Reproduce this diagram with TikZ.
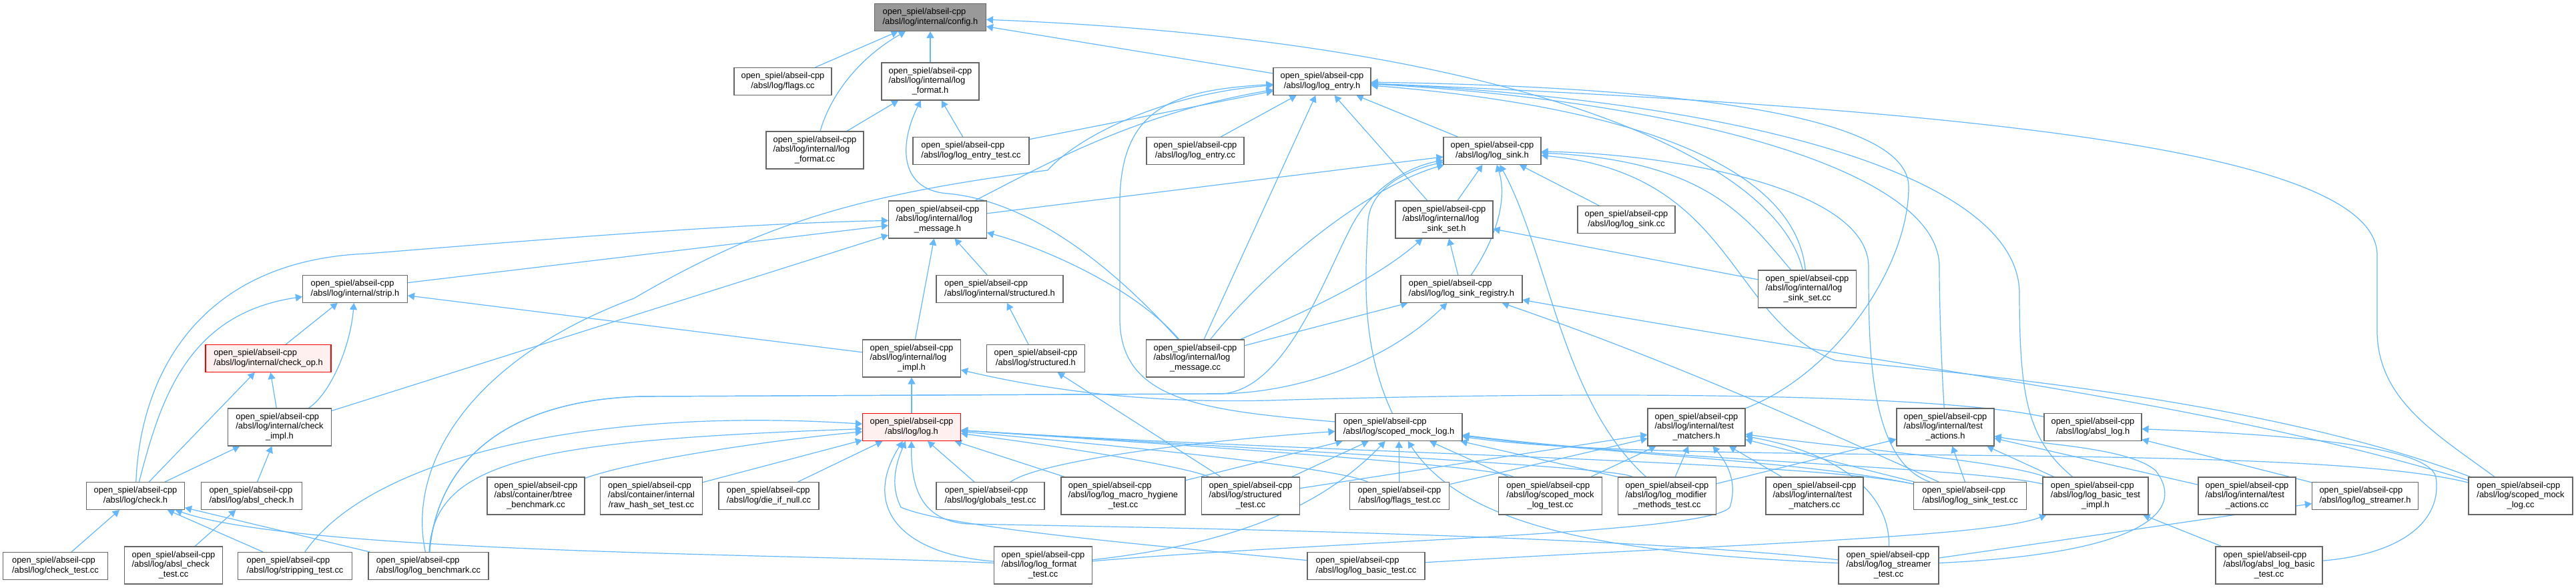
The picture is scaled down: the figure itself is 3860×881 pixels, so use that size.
\documentclass[tikz,border=0pt]{standalone}
\usepackage{fontspec}
\setmainfont{Liberation Sans}
\usepackage{xcolor}
\definecolor{cEdge}{HTML}{63B8FF}
\definecolor{cBorder}{HTML}{666666}
\definecolor{cRoot}{HTML}{999999}
\definecolor{cRed}{HTML}{FF0000}
\definecolor{cRedFill}{HTML}{FFF0F0}
\usepackage{tikz}
\usetikzlibrary{arrows.meta,backgrounds}
\tikzset{
  node-file/.style={draw=cBorder,fill=white,line width=0.55pt,inner sep=0pt,
    minimum height=20.5pt,font=\fontsize{6.45}{7.15}\selectfont},
  node-tall/.style={minimum height=28pt},
  node-root/.style={fill=cRoot},
  node-warn/.style={draw=cRed,fill=cRedFill},
  wd/.style={minimum width=#1*0.5pt},
  arrow-inc/.style={-{Triangle[length=5pt,width=5.5pt]},draw=cEdge,line width=0.6pt},
}
% label of a file box: last line centred, the others flush left
\newcommand{\fpath}[1]{\begin{tabular}{@{}l@{}}open\_spiel/abseil-cpp\\\multicolumn{1}{@{}c@{}}{#1}\end{tabular}}
\newcommand{\fpathl}[2]{\begin{tabular}{@{}l@{}}open\_spiel/abseil-cpp\\#1\\\multicolumn{1}{@{}c@{}}{#2}\end{tabular}}

\begin{document}
\begin{tikzpicture}[x=0.5pt,y=-0.5pt]
  \useasboundingbox (0,0) rectangle (3860,881);
  % row 0-2
  \node[node-file,node-root,wd=167] (cfg) at (1394,26) {\fpath{/absl/log/internal/config.h}};
  \node[node-file,wd=146] (flagscc) at (1173,122) {\fpath{/absl/log/flags.cc}};
  \node[node-file,node-tall,wd=146] (fmth) at (1394,122) {\fpathl{/absl/log/internal/log}{\_format.h}};
  \node[node-file,wd=146] (entryh) at (1981,122) {\fpath{/absl/log/log\_entry.h}};
  \node[node-file,node-tall,wd=146] (fmtcc) at (1221,225) {\fpathl{/absl/log/internal/log}{\_format.cc}};
  \node[node-file,wd=174] (entrytest) at (1455,226) {\fpath{/absl/log/log\_entry\_test.cc}};
  \node[node-file,wd=146] (entrycc) at (1791,226) {\fpath{/absl/log/log\_entry.cc}};
  \node[node-file,wd=146] (sinkh) at (2236,226) {\fpath{/absl/log/log\_sink.h}};
  % row 3-4
  \node[node-file,node-tall,wd=147] (msgh) at (1405,329) {\fpathl{/absl/log/internal/log}{\_message.h}};
  \node[node-file,node-tall,wd=146] (sinkseth) at (2164,329) {\fpathl{/absl/log/internal/log}{\_sink\_set.h}};
  \node[node-file,wd=146] (sinkcc) at (2437,329) {\fpath{/absl/log/log\_sink.cc}};
  \node[node-file,node-tall,wd=147] (sinksetcc) at (2708,433) {\fpathl{/absl/log/internal/log}{\_sink\_set.cc}};
  \node[node-file,wd=157] (striph) at (532,433) {\fpath{/absl/log/internal/strip.h}};
  \node[node-file,wd=190] (istructh) at (1498,433) {\fpath{/absl/log/internal/structured.h}};
  \node[node-file,wd=182] (registryh) at (2190,433) {\fpath{/absl/log/log\_sink\_registry.h}};
  % row 5
  \node[node-file,node-warn,wd=188] (checkoph) at (402,537) {\fpath{/absl/log/internal/check\_op.h}};
  \node[node-file,node-tall,wd=147] (implh) at (1366,537) {\fpathl{/absl/log/internal/log}{\_impl.h}};
  \node[node-file,wd=147] (structh) at (1552,537) {\fpath{/absl/log/structured.h}};
  \node[node-file,node-tall,wd=147] (msgcc) at (1791,537) {\fpathl{/absl/log/internal/log}{\_message.cc}};
  % row 6
  \node[node-file,node-tall,wd=155] (checkimplh) at (419,640) {\fpathl{/absl/log/internal/check}{\_impl.h}};
  \node[node-file,node-warn,wd=147] (logh) at (1366,640) {\fpath{/absl/log/log.h}};
  \node[node-file,wd=190] (mockh) at (2096,640) {\fpath{/absl/log/scoped\_mock\_log.h}};
  \node[node-file,node-tall,wd=146] (matchh) at (2542,640) {\fpathl{/absl/log/internal/test}{\_matchers.h}};
  \node[node-file,node-tall,wd=146] (actionsh) at (2915,640) {\fpathl{/absl/log/internal/test}{\_actions.h}};
  \node[node-file,wd=146] (absllogh) at (3136,640) {\fpath{/absl/log/absl\_log.h}};
  % row 7
  \node[node-file,wd=147] (checkh) at (203,743) {\fpath{/absl/log/check.h}};
  \node[node-file,wd=151] (abslcheckh) at (377,743) {\fpath{/absl/log/absl\_check.h}};
  \node[node-file,node-tall,wd=146] (btree) at (803,743) {\fpathl{/absl/container/btree}{\_benchmark.cc}};
  \node[node-file,node-tall,wd=153] (rawhash) at (976,743) {\fpathl{/absl/container/internal}{/raw\_hash\_set\_test.cc}};
  \node[node-file,wd=150] (dieifnull) at (1152,743) {\fpath{/absl/log/die\_if\_null.cc}};
  \node[node-file,wd=162] (globalstest) at (1484,743) {\fpath{/absl/log/globals\_test.cc}};
  \node[node-file,node-tall,wd=186] (hygiene) at (1683,743) {\fpathl{/absl/log/log\_macro\_hygiene}{\_test.cc}};
  \node[node-file,node-tall,wd=147] (structtest) at (1874,743) {\fpathl{/absl/log/structured}{\_test.cc}};
  \node[node-file,wd=149] (flagstest) at (2097,743) {\fpath{/absl/log/flags\_test.cc}};
  \node[node-file,node-tall,wd=155] (mocktest) at (2323,743) {\fpathl{/absl/log/scoped\_mock}{\_log\_test.cc}};
  \node[node-file,node-tall,wd=147] (modtest) at (2498,743) {\fpathl{/absl/log/log\_modifier}{\_methods\_test.cc}};
  \node[node-file,node-tall,wd=146] (matchcc) at (2719,743) {\fpathl{/absl/log/internal/test}{\_matchers.cc}};
  \node[node-file,wd=169] (sinktest) at (2952,743) {\fpath{/absl/log/log\_sink\_test.cc}};
  \node[node-file,node-tall,wd=158] (basicimplh) at (3140,743) {\fpathl{/absl/log/log\_basic\_test}{\_impl.h}};
  \node[node-file,node-tall,wd=146] (actionscc) at (3367,743) {\fpathl{/absl/log/internal/test}{\_actions.cc}};
  \node[node-file,wd=159] (streamerh) at (3544,743) {\fpath{/absl/log/log\_streamer.h}};
  \node[node-file,node-tall,wd=156] (mockcc) at (3777,743) {\fpathl{/absl/log/scoped\_mock}{\_log.cc}};
  % row 8
  \node[node-file,wd=157] (checktest) at (83,848) {\fpath{/absl/log/check\_test.cc}};
  \node[node-file,node-tall,wd=147] (abslchecktest) at (260,847) {\fpathl{/absl/log/absl\_check}{\_test.cc}};
  \node[node-file,wd=171] (striptest) at (442,848) {\fpath{/absl/log/stripping\_test.cc}};
  \node[node-file,wd=180] (bench) at (642,848) {\fpath{/absl/log/log\_benchmark.cc}};
  \node[node-file,node-tall,wd=147] (fmttest) at (1563,847) {\fpathl{/absl/log/log\_format}{\_test.cc}};
  \node[node-file,wd=176] (basictest) at (2047,848) {\fpath{/absl/log/log\_basic\_test.cc}};
  \node[node-file,node-tall,wd=150] (streamertest) at (2830,847) {\fpathl{/absl/log/log\_streamer}{\_test.cc}};
  \node[node-file,node-tall,wd=160] (abslbasictest) at (3400,847) {\fpathl{/absl/log/absl\_log\_basic}{\_test.cc}};

  \begin{scope}[on background layer]
    \fill[white] (0,0) rectangle (3860,881);
    % straight include edges, by included file
    \foreach \s in {flagscc,fmth,entryh} \draw[arrow-inc] (\s) -- (cfg);
    \foreach \s in {fmtcc,entrytest} \draw[arrow-inc] (\s) -- (fmth);
    \foreach \s in {entrytest,entrycc,sinkh,sinkseth,msgcc} \draw[arrow-inc] (\s) -- (entryh);
    \foreach \s in {msgh,sinkseth,sinkcc} \draw[arrow-inc] (\s) -- (sinkh);
    \foreach \s in {striph,istructh,implh,checkimplh} \draw[arrow-inc] (\s) -- (msgh);
    \foreach \s in {sinksetcc,registryh} \draw[arrow-inc] (\s) -- (sinkseth);
    \draw[arrow-inc] (msgcc) -- (registryh);
    \foreach \s in {checkoph,implh} \draw[arrow-inc] (\s) -- (striph);
    \foreach \s in {checkimplh,checkh} \draw[arrow-inc] (\s) -- (checkoph);
    \foreach \s in {checkh,abslcheckh} \draw[arrow-inc] (\s) -- (checkimplh);
    \draw[arrow-inc] (structh) -- (istructh);
    \draw[arrow-inc] (structtest) -- (structh);
    \draw[arrow-inc] (logh) -- (implh);
    \foreach \s in {dieifnull,rawhash,globalstest,hygiene} \draw[arrow-inc] (\s) -- (logh);
    \foreach \s in {checktest,striptest,bench} \draw[arrow-inc] (\s) -- (checkh);
    \draw[arrow-inc] (abslchecktest) -- (abslcheckh);
    \foreach \s in {flagstest,mocktest,structtest,hygiene,modtest.north west} \draw[arrow-inc] (\s) -- (mockh);
    \foreach \s in {flagstest,mocktest,modtest,matchcc,structtest,sinktest} \draw[arrow-inc] (\s) -- (matchh);
    \foreach \s in {modtest,sinktest,basicimplh,actionscc} \draw[arrow-inc] (\s) -- (actionsh);
    \draw[arrow-inc] (streamerh) -- (absllogh);
    \draw[arrow-inc] (abslbasictest) -- (basicimplh);
    \draw[arrow-inc] (streamertest) -- (streamerh);

    % routed include edges
    \draw[arrow-inc] (fmtcc) .. controls (1245,140) and (1290,85) .. (cfg);
    \draw[arrow-inc] (sinksetcc) .. controls (2660,230) and (2250,60) .. (cfg);
    \draw[arrow-inc] (msgcc) .. controls (1650,380) and (1530,300) .. (1420,290)
      .. controls (1350,285) and (1345,220) .. (fmth);

    \draw[arrow-inc] (msgh) .. controls (1560,250) and (1700,170) .. (entryh);
    \draw[arrow-inc] (bench) .. controls (610,700) and (700,540) .. (950,447)
      .. controls (1150,330) and (1300,290) .. (1570,255) .. controls (1620,200) and (1750,140) .. (entryh);
    \draw[arrow-inc] (mockh) .. controls (1800,615) and (1680,600) .. (1678,480) -- (1678,300)
      .. controls (1680,160) and (1760,135) .. (entryh);
    \draw[arrow-inc] (sinksetcc) .. controls (2690,250) and (2450,160) .. (entryh);
    \draw[arrow-inc] (matchh) .. controls (2750,560) and (2860,400) .. (2860,280)
      .. controls (2860,170) and (2500,130) .. (entryh);
    \draw[arrow-inc] (actionsh) .. controls (2910,560) and (2906,470) .. (2906,400)
      .. controls (2906,250) and (2500,150) .. (entryh);
    \draw[arrow-inc] (basicimplh) .. controls (3040,660) and (3026,600) .. (3026,440)
      .. controls (3026,260) and (2600,150) .. (entryh);
    \draw[arrow-inc] (mockcc) .. controls (3650,650) and (3565,600) .. (3562,500) -- (3562,380)
      .. controls (3555,230) and (3000,165) .. (entryh);

    \draw[arrow-inc] (registryh) .. controls (2240,360) and (2260,300) .. (sinkh);
    \draw[arrow-inc] (sinksetcc) .. controls (2620,330) and (2560,240) .. (sinkh);
    \draw[arrow-inc] (msgcc) .. controls (1900,400) and (2050,280) .. (sinkh);
    \draw[arrow-inc] (mockh) .. controls (2040,520) and (2045,420) .. (2050,330)
      .. controls (2055,280) and (2110,255) .. (sinkh);
    \draw[arrow-inc] (bench) .. controls (655,690) and (760,600) .. (960,594) -- (1830,590)
      .. controls (1930,585) and (1990,400) .. (2030,330) .. controls (2060,280) and (2110,250) .. (sinkh);
    \draw[arrow-inc] (modtest) .. controls (2340,600) and (2320,380) .. (sinkh);
    \draw[arrow-inc] (sinktest) .. controls (2800,690) and (2800,520) .. (2800,400)
      .. controls (2800,280) and (2500,230) .. (sinkh);
    \draw[arrow-inc] (mockcc) .. controls (3400,600) and (2950,560) .. (2750,540)
      .. controls (2590,480) and (2600,260) .. (sinkh);

    \draw[arrow-inc] (msgcc) .. controls (1950,470) and (2060,420) .. (sinkseth);
    \draw[arrow-inc] (bench) .. controls (655,690) and (760,600) .. (960,594) -- (1830,590)
      .. controls (1950,588) and (2080,540) .. (registryh);
    \draw[arrow-inc] (sinktest) .. controls (2700,630) and (2500,540) .. (registryh);
    \draw[arrow-inc] (mockcc) .. controls (3300,600) and (2900,560) .. (registryh);

    \draw[arrow-inc] (msgcc) .. controls (1700,430) and (1560,370) .. (msgh);
    \draw[arrow-inc] (checkh) .. controls (210,560) and (300,390) .. (550,380)
      .. controls (800,360) and (1100,335) .. (msgh);
    \draw[arrow-inc] (checkimplh) .. controls (495,590) and (525,520) .. (striph);
    \draw[arrow-inc] (checkh) .. controls (240,600) and (280,470) .. (striph);
    \draw[arrow-inc] (absllogh) .. controls (2900,590) and (2400,585) .. (1900,600)
      .. controls (1700,605) and (1550,580) .. (implh);

    \draw[arrow-inc] (btree) .. controls (950,690) and (1150,660) .. (logh);
    \draw[arrow-inc] (bench) .. controls (650,690) and (800,660) .. (logh);
    \draw[arrow-inc] (striptest) .. controls (560,680) and (900,610) .. (logh);
    \draw[arrow-inc] (structtest) .. controls (1780,700) and (1600,670) .. (logh);
    \draw[arrow-inc] (flagstest) .. controls (2000,700) and (1700,670) .. (logh);
    \draw[arrow-inc] (mocktest) .. controls (2240,700) and (1900,675) .. (logh);
    \draw[arrow-inc] (modtest) .. controls (2420,700) and (2000,680) .. (logh);
    \draw[arrow-inc] (sinktest) .. controls (2700,690) and (2000,680) .. (logh);
    \draw[arrow-inc] (fmttest) .. controls (1350,830) and (1290,760) .. (logh);
    \draw[arrow-inc] (streamertest) .. controls (2400,800) and (1700,790) .. (1450,785)
      .. controls (1380,780) and (1365,730) .. (logh);
    \draw[arrow-inc] (basictest) .. controls (1700,815) and (1420,790) .. (1350,760)
      .. controls (1335,730) and (1340,700) .. (logh);
    \draw[arrow-inc] (fmttest) .. controls (1200,830) and (450,830) .. (checkh);

    \draw[arrow-inc] (globalstest) .. controls (1560,690) and (1800,660) .. (mockh);
    \draw[arrow-inc] (fmttest) .. controls (1850,815) and (1980,760) .. (mockh);
    \draw[arrow-inc] (streamertest) .. controls (2450,830) and (2200,800) .. (mockh);
    \draw[arrow-inc] (sinktest) .. controls (2700,690) and (2400,680) .. (mockh);
    \draw[arrow-inc] (basicimplh) .. controls (2950,700) and (2500,690) .. (mockh);
    \draw[arrow-inc] (mockcc) .. controls (3450,660) and (2500,700) .. (mockh);

    \draw[arrow-inc] (fmttest) .. controls (2000,810) and (2560,800) .. (2592,760)
      .. controls (2605,720) and (2585,690) .. (matchh);
    \draw[arrow-inc] (streamertest) .. controls (2832,740) and (2760,680) .. (matchh);
    \draw[arrow-inc] (basicimplh) .. controls (3000,690) and (2750,670) .. (matchh);
    \draw[arrow-inc] (streamertest) .. controls (3200,830) and (3280,770) .. (3230,705)
      .. controls (3190,670) and (3050,665) .. (actionsh);
    \draw[arrow-inc] (abslbasictest) .. controls (3600,830) and (3660,780) .. (3650,715)
      .. controls (3640,665) and (3400,650) .. (absllogh);
    \draw[arrow-inc] (basictest) .. controls (2600,815) and (2980,805) .. (basicimplh);
  \end{scope}
\end{tikzpicture}
\end{document}
